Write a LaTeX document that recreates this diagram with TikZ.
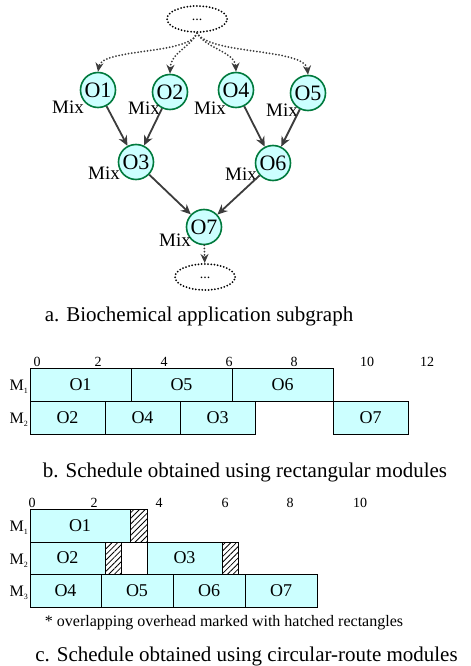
\documentclass[tikz,border=0pt]{standalone}
\usepackage{fontspec}
\setmainfont{Liberation Serif}
\usetikzlibrary{arrows.meta,patterns.meta,shapes.geometric,calc}
\definecolor{nodefill}{HTML}{CCFFFF}
\definecolor{nodeline}{HTML}{007A3D}
\definecolor{edgecol}{HTML}{3C3C3C}
\newcommand{\fsz}[1]{\fontsize{#1bp}{#1bp}\selectfont}
\newcommand{\Mlab}[1]{M\raisebox{-3bp}{\fsz{8}#1}}
\begin{document}
\begin{tikzpicture}[x=1bp,y=-1bp,
  op/.style={circle,draw=nodeline,fill=nodefill,line width=1.6bp,minimum size=35bp,inner sep=0pt,font=\fsz{22}},
  mix/.style={font=\fsz{19},inner sep=0pt},
  dag/.style={draw=edgecol,line width=1.8bp,-{Stealth[length=10bp,width=9bp]}},
  dotarrow/.style={draw=edgecol,line width=2bp,dash pattern=on 0pt off 3.2bp,line cap=round,-{Stealth[length=9bp,width=8bp]}},
  dotell/.style={draw=black,line width=2bp,dash pattern=on 0pt off 3.2bp,line cap=round,ellipse,minimum width=60bp,minimum height=26bp,inner sep=0pt},
  gbox/.style={draw=black,fill=nodefill,line width=1bp},
  hatch/.style={draw=black,line width=1bp,pattern={Lines[angle=45,distance=4bp,line width=0.8bp]}},
  boxtxt/.style={font=\fsz{18},inner sep=0pt},
  tick/.style={font=\fsz{14},inner sep=0pt},
  mlab/.style={font=\fsz{16},inner sep=0pt,anchor=east},
  caption/.style={font=\fsz{21},inner sep=0pt,anchor=base}
]
\useasboundingbox (0,0) rectangle (471,666);

% ---------- a. graph ----------
\node[dotell] (top) at (197,19) {};
\node[font=\fsz{14},inner sep=0pt] (topdots) at (197,20) {...};
\node[op] (O1) at (98,90) {O1};
\node[op] (O2) at (170,92) {O2};
\node[op] (O4) at (236,90) {O4};
\node[op] (O5) at (308,93) {O5};
\node[op] (O3) at (136,162) {O3};
\node[op] (O6) at (273,163) {O6};
\node[op] (O7) at (204,227) {O7};
\node[dotell] (bot) at (205,277) {};
\node[font=\fsz{14},inner sep=0pt] (botdots) at (205,278) {...};

\node[mix] (m1) at (68,107) {Mix};
\node[mix] (m2) at (144,108) {Mix};
\node[mix] (m4) at (210,108) {Mix};
\node[mix] (m5) at (282,110) {Mix};
\node[mix] (m3) at (104,173) {Mix};
\node[mix] (m6) at (241,174) {Mix};
\node[mix] (m7) at (175,240) {Mix};

\draw[dotarrow] (top.south) .. controls (190,55) and (102,48) .. (O1.north);
\draw[dotarrow] (top.south) .. controls (190,48) and (171,52) .. (O2.north);
\draw[dotarrow] (top.south) .. controls (205,48) and (235,52) .. (O4.north);
\draw[dotarrow] (top.south) .. controls (210,55) and (305,48) .. (O5.north);

\draw[dag] (O1) -- (O3);
\draw[dag] (O2) -- (O3);
\draw[dag] (O4) -- (O6);
\draw[dag] (O5) -- (O6);
\draw[dag] (O3) -- (O7);
\draw[dag] (O6) -- (O7);
\draw[dotarrow] (O7) -- (bot);

\node[caption] (capa) at (199,321) {a. Biochemical application subgraph};

% ---------- b. rectangular schedule ----------
\foreach \x/\t in {37/0,98/2,164/4,229/6,294/8,367/10,427/12}
  \node[tick] at (\x,362) {\t};
\node[mlab] (bm1) at (28,387) {\Mlab{1}};
\node[mlab] (bm2) at (28,420) {\Mlab{2}};
\foreach \a/\b/\t in {30/131/O1,131/232/O5,232/333/O6}
  \draw[gbox] (\a,368) rectangle (\b,401) node[midway,boxtxt] {\t};
\foreach \a/\b/\t in {30/105/O2,105/180/O4,180/255/O3,333/408/O7}
  \draw[gbox] (\a,401) rectangle (\b,434) node[midway,boxtxt] {\t};

\node[caption] (capb) at (245,477) {b. Schedule obtained using rectangular modules};

% ---------- c. circular-route schedule ----------
\foreach \x/\t in {32/0,94/2,159/4,225/6,290/8,360/10}
  \node[tick] at (\x,503) {\t};
\node[mlab] (cm1) at (28,528) {\Mlab{1}};
\node[mlab] (cm2) at (28,561) {\Mlab{2}};
\node[mlab] (cm3) at (28,593) {\Mlab{3}};
\draw[gbox] (30,509) rectangle (130,542) node[midway,boxtxt] {O1};
\draw[hatch] (130,509) rectangle (147,542);
\draw[gbox] (30,542) rectangle (105,574) node[midway,boxtxt] {O2};
\draw[hatch] (105,542) rectangle (121,574);
\draw[gbox] (147,542) rectangle (222,574) node[midway,boxtxt] {O3};
\draw[hatch] (222,542) rectangle (238,574);
\foreach \a/\b/\t in {30/101/O4,101/173/O5,173/245/O6,245/317/O7}
  \draw[gbox] (\a,574) rectangle (\b,607) node[midway,boxtxt] {\t};

\node[font=\fsz{16},inner sep=0pt] (foot) at (224,623) {* overlapping overhead marked with hatched rectangles};
\node[caption] (capc) at (246.5,661) {c. Schedule obtained using circular-route modules};
\end{tikzpicture}
\end{document}
